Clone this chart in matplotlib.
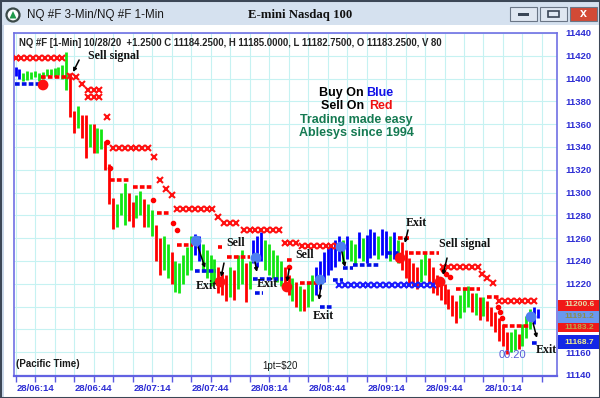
import numpy as np
import matplotlib.pyplot as plt
from matplotlib.patches import Rectangle, Circle, Polygon
from matplotlib.transforms import IdentityTransform, blended_transform_factory

plt.rcParams['font.family'] = ['Liberation Sans', 'DejaVu Sans']

# ---------------------------------------------------------------
# данные (минуты после 06:00, цены)
# ---------------------------------------------------------------
bar_min = list(range(4, 273, 2))
bar_low = [
    11402, 11400, 11398, 11399, 11400, 11401, 11398, 11400, 11402, 11403,
    11401, 11403, 11400, 11390, 11366, 11352, 11357, 11348, 11330, 11340,
    11335, 11335, 11338, 11320, 11290, 11268, 11270, 11280, 11272, 11275,
    11270, 11278, 11280, 11270, 11270, 11262, 11240, 11228, 11232, 11225,
    11220, 11213, 11212, 11220, 11228, 11232, 11245, 11240, 11230, 11225,
    11218, 11220, 11212, 11210, 11205, 11208, 11206, 11215, 11220, 11204,
    11215, 11238, 11235, 11240, 11232, 11228, 11225, 11222, 11218, 11215,
    11210, 11205, 11200, 11196, 11196, 11200, 11205, 11210, 11215, 11222,
    11228, 11232, 11235, 11240, 11238, 11242, 11240, 11237, 11243, 11240,
    11238, 11243, 11245, 11242, 11245, 11243, 11240, 11242, 11238, 11232,
    11225, 11220, 11218, 11215, 11222, 11228, 11220, 11212, 11210, 11206,
    11202, 11198, 11192, 11186, 11190, 11195, 11200, 11195, 11193, 11188,
    11192, 11187, 11183, 11178, 11170, 11165, 11158, 11160, 11162, 11163,
    11165, 11172, 11180, 11185, 11190]
bar_high = [
    11410, 11408, 11405, 11407, 11406, 11407, 11405, 11406, 11408, 11408,
    11409, 11410, 11412, 11423, 11405, 11372, 11376, 11368, 11368, 11360,
    11360, 11357, 11356, 11345, 11325, 11295, 11290, 11300, 11308, 11300,
    11292, 11298, 11301, 11294, 11290, 11285, 11272, 11260, 11262, 11255,
    11248, 11240, 11238, 11245, 11252, 11262, 11264, 11262, 11255, 11250,
    11245, 11242, 11235, 11230, 11228, 11235, 11232, 11245, 11250, 11238,
    11240, 11258, 11262, 11265, 11258, 11255, 11250, 11245, 11240, 11235,
    11228, 11225, 11222, 11218, 11215, 11222, 11228, 11235, 11240, 11248,
    11252, 11255, 11258, 11262, 11258, 11262, 11258, 11255, 11265, 11260,
    11263, 11268, 11265, 11262, 11268, 11266, 11262, 11265, 11258, 11257,
    11250, 11243, 11238, 11235, 11242, 11248, 11243, 11235, 11228, 11225,
    11220, 11215, 11210, 11205, 11210, 11215, 11218, 11212, 11212, 11208,
    11208, 11205, 11200, 11195, 11190, 11185, 11178, 11178, 11180, 11176,
    11185, 11192, 11198, 11200, 11198]
bar_col = ("bbgggggggg" "ggggrrgrrg" "rggrrrgggr" "rggrggrrgg" "rgggggbbgg"
           "ggrrrgrggr" "gbbbgggggr" "rgrgrggbbb" "bbbbgbggbg" "bbbgbbgbgr"
           "rrrrggrrrr" "rrrrgggrgr" "grrrrrrggr" "gggbb")

# красные крестики (верхний стоп)
redx_m = [4, 7, 10, 13, 16, 19, 22, 25, 28, 32, 35, 38, 41, 44, 47, 41, 44, 47, 51,
          54, 57, 60, 63, 66, 69, 72, 75, 78, 81, 84,
          87, 90, 93, 96, 99, 102, 105, 108, 111, 114, 117,
          121, 124, 127, 130, 133, 136, 139, 142, 145, 148,
          151, 154, 157, 160, 163, 166, 169,
          223, 226, 229, 232, 235, 238, 241, 243, 246, 249,
          252, 255, 258, 261, 264, 267, 270]
redx_p = [11418] * 9 + [11402, 11401, 11395, 11390, 11390, 11390, 11384, 11384, 11384, 11366] + \
         [11339] * 7 + [11331, 11311, 11303, 11298] + [11286] * 7 + [11279, 11273, 11273, 11273] + \
         [11267] * 7 + [11256] * 3 + [11253] * 7 + [11235] * 7 + [11229, 11225, 11221] + [11205] * 7

# синие крестики (нижний стоп)
bluex_m = list(range(170, 219, 3))
bluex_p = [11219] * len(bluex_m)

# красные стоп-уровни (пунктир) и точки
rs_start = [17, 52.5, 64, 76.5, 87, 108, 112.5, 143, 150, 200, 206, 230, 246, 254]
rs_end = [31, 62.7, 74.5, 83, 95, 110, 124, 146, 158.6, 206, 221, 242, 252.5, 268]
rs_price = [11401, 11311, 11305, 11282, 11254, 11252, 11243.5, 11241, 11221, 11260, 11247,
            11215, 11208, 11183]
rd_m = [51, 52.5, 74.5, 84.8, 87, 144, 223, 225, 227, 251.5, 252.5, 253.5]
rd_p = [11344, 11322, 11293.5, 11273, 11267, 11235, 11232, 11229, 11226, 11200, 11195, 11190]

# синие уровни поддержки
bs_start = [3.5, 96, 126, 127, 160, 167, 172, 177, 194.5, 269]
bs_end = [16.6, 107, 141, 131, 167, 172, 177, 191, 201, 272]
bs_price = [11395, 11231, 11224, 11212, 11200, 11223, 11234, 11236.5, 11247, 11168]

# сигналы (круги)
sig_m = [18.1, 96.6, 108.9, 127.3, 143.2, 160.2, 170.9, 201.2, 221.7, 268.4]
sig_p = [11394.4, 11257.5, 11221.6, 11242.6, 11217.2, 11223.3, 11252.3, 11242.6, 11221.6, 11190.9]
sig_col = "rbrbrbbrrb"

# подписи: текст, позиция текста, линия от -> до
ann_text = ['Sell signal', 'Sell', 'Exit', 'Exit', 'Sell', 'Exit', '', 'Exit', 'Sell signal', 'Exit']
ann_m = [41.2, 111.9, 96.6, 127.8, 147.3, 156.6, 0, 204.3, 221.2, 270.9]
ann_p = [11419.8, 11255.8, 11218, 11219.8, 11245.3, 11191.8, 0, 11273.3, 11254.9, 11161.9]
arr_m0 = [36.6, 110.9, 97.6, 126.8, 144.3, 160.7, 171.4, 205.3, 225.3, 269.4]
arr_p0 = [11416.3, 11238.2, 11252.3, 11239.1, 11233, 11219, 11247.9, 11267.2, 11242.6, 11185.6]
arr_m1 = [33.5, 109.4, 101.2, 127.8, 143.2, 159.6, 173, 203.7, 223.2, 271.4]
arr_p1 = [11405.8, 11226, 11233.9, 11230.4, 11221.6, 11205.8, 11234.7, 11255.8, 11227.7, 11172.5]

# ценовые метки справа
tag_price = [11200.6, 11183.2, 11191.2, 11168.7]
tag_label = ['11200.6', '11183.2', '11191.2', '11168.7']
tag_shift = [1.5, -1.8, 0, 0]
tag_bg = ['#f01818', '#f01818', '#6a98ee', '#1428e6']
tag_fg = ['#e4dca8', '#b8a84a', '#8c8c4c', '#f4f08c']

x_ticks = list(range(4, 282, 10))
x_label_pos = [14, 44, 74, 104, 134, 164, 194, 224, 254]
x_label_txt = ['28/06:14', '28/06:44', '28/07:14', '28/07:44', '28/08:14',
               '28/08:44', '28/09:14', '28/09:44', '28/10:14']
y_ticks = list(range(11140, 11441, 20))
y_hidden = [11180, 11200]   # закрыты ценовыми метками

COL = {'r': '#ff0000', 'g': '#12e612', 'b': '#0000ff'}
SIGCOL = {'r': '#ff1010', 'b': '#4d7ff0'}

# ---------------------------------------------------------------
W, H = 600, 398
fig = plt.figure(figsize=(6, 3.98), dpi=100, facecolor='white')


def fx(x):
    return x / W


def fy(y):
    return 1 - y / H


# окно: заголовок и рамка
fig.add_artist(Rectangle((0, fy(25)), 1, 25 / H, transform=fig.transFigure,
                         facecolor='#d5e1ef', edgecolor='none'))
fig.add_artist(Rectangle((0, 0), fx(4), fy(25), transform=fig.transFigure,
                         facecolor='#cad8ea', edgecolor='none'))
fig.add_artist(Rectangle((0, 0), 1, 1, transform=fig.transFigure,
                         facecolor='none', edgecolor='#3c4756', lw=2.2))
fig.add_artist(Circle((13, H - 15), 6.5, transform=IdentityTransform(),
                      facecolor='white', edgecolor='#3a4a48', lw=1.6))
fig.add_artist(Polygon([[9.5, H - 18.5], [16.5, H - 18.5], [13, H - 11]],
                       transform=IdentityTransform(), facecolor='#1f9a4a', edgecolor='none'))
fig.text(fx(27), fy(15), 'NQ #F 3-Min/NQ #F 1-Min', fontsize=8.4, color='#1a1a1a', va='center')
fig.text(fx(248), fy(15), 'E-mini Nasdaq 100', fontsize=9.2, fontweight='bold',
         family='Liberation Serif', va='center', color='#111111')
for x0, fc in [(510, '#dfe7f1'), (540, '#dfe7f1'), (570, '#d24a36')]:
    fig.add_artist(Rectangle((fx(x0), fy(21)), 27 / W, 14 / H, transform=fig.transFigure,
                             facecolor=fc, edgecolor='#6a7686', lw=0.8))
fig.add_artist(Rectangle((fx(518), fy(15.5)), 11 / W, 2.5 / H, transform=fig.transFigure,
                         facecolor='#3a4656', edgecolor='none'))
fig.add_artist(Rectangle((fx(548), fy(17)), 11 / W, 6 / H, transform=fig.transFigure,
                         facecolor='none', edgecolor='#3a4656', lw=1.2))
fig.text(fx(583.5), fy(14), 'x', fontsize=9, fontweight='bold', color='white',
         ha='center', va='center')

# ---------------------------------------------------------------
ax = fig.add_axes([fx(14), fy(376), (557 - 14) / W, (376 - 33) / H])
ax.set_xlim(3.2, 281.7)
ax.set_ylim(11139.1, 11440)

ax.vlines(bar_min, bar_low, bar_high, colors=[COL[c] for c in bar_col], lw=2.0, zorder=3)
ax.hlines(rs_price, rs_start, rs_end, colors='#ff0000', lw=2.6,
          linestyles=[(0, (1.3, 0.6))], zorder=4)
ax.plot(rd_m, rd_p, 'o', color='#ff0000', ms=3, zorder=4)
ax.hlines(bs_price, bs_start, bs_end, colors='#0010e6', lw=2.6,
          linestyles=[(0, (1.3, 0.6))], zorder=4)
ax.plot(redx_m, redx_p, 'x', color='#ff1010', ms=4.8, mew=1.5, ls='none', zorder=4)
ax.plot(bluex_m, bluex_p, 'x', color='#1a1aff', ms=4.8, mew=1.5, ls='none', zorder=4)
ax.scatter(sig_m, sig_p, s=60, c=[SIGCOL[c] for c in sig_col], linewidths=0, zorder=5)

for t, tm, tp, m0, p0, m1, p1 in zip(ann_text, ann_m, ann_p, arr_m0, arr_p0, arr_m1, arr_p1):
    if t:
        ax.text(tm, tp, t, ha='left', va='center', family='Liberation Serif',
                fontweight='bold', fontsize=8.6, color='#111111', zorder=6)
    ax.annotate('', xy=(m1, p1), xytext=(m0, p0),
                arrowprops=dict(arrowstyle='-|>', lw=1.1, color='black',
                                mutation_scale=5, shrinkA=0, shrinkB=0), zorder=6)

# оси
ax.set_xticks(x_ticks)
ax.set_xticklabels([x_label_txt[x_label_pos.index(t)] if t in x_label_pos else '' for t in x_ticks])
ax.set_yticks(y_ticks)
ax.set_yticklabels(['' if v in y_hidden else str(v) for v in y_ticks])
ax.yaxis.tick_right()
ax.tick_params(axis='y', length=0, pad=6, labelsize=6.8, labelcolor='#2e2ed4')
ax.tick_params(axis='x', length=4, width=1, color='#5a5ae2', pad=2,
               labelsize=6.8, labelcolor='#2e2ed4')
for lab in ax.get_xticklabels() + ax.get_yticklabels():
    lab.set_fontweight('bold')
ax.grid(True, color='#c6f2f2', lw=0.8)
ax.set_axisbelow(True)
for s in ['top', 'left', 'right']:
    ax.spines[s].set_color('#7070e4')
    ax.spines[s].set_linewidth(1.2)
ax.spines['bottom'].set_color('#6262e2')
ax.spines['bottom'].set_linewidth(1.6)

# ценовые метки справа
bt = blended_transform_factory(ax.transAxes, ax.transData)
for i, (p, lab, dp, bg, fg) in enumerate(zip(tag_price, tag_label, tag_shift, tag_bg, tag_fg)):
    hgt = 12.5 if i == 3 else 10.5
    ax.add_patch(Rectangle((1.002, p - hgt / 2), 0.1, hgt, transform=bt, clip_on=False,
                           facecolor=bg, edgecolor='none', zorder=10 + i))
    ax.text(1.0129, p + dp, lab, transform=bt, clip_on=False, fontsize=6.0, fontweight='bold',
            color=fg, va='center', ha='left', zorder=10 + i)

# тексты
fig.text(fx(19), fy(43), 'NQ #F [1-Min] 10/28/20  +1.2500 C 11184.2500, H 11185.0000, '
         'L 11182.7500, O 11183.2500, V 80', fontsize=6.9, fontweight='bold',
         color='#222222', va='center')
fig.text(fx(319), fy(93), 'Buy On ', fontsize=9, fontweight='bold', color='black', va='center')
fig.text(fx(366), fy(93), 'Blue', fontsize=9, fontweight='bold', color='#1010e8', va='center')
fig.text(fx(321), fy(106), 'Sell On ', fontsize=9, fontweight='bold', color='black', va='center')
fig.text(fx(369), fy(106), 'Red', fontsize=9, fontweight='bold', color='#f01010', va='center')
fig.text(fx(356), fy(120), 'Trading made easy', fontsize=9, fontweight='bold',
         color='#157a52', va='center', ha='center')
fig.text(fx(356), fy(132.5), 'Ablesys since 1994', fontsize=9, fontweight='bold',
         color='#157a52', va='center', ha='center')
fig.text(fx(16), fy(364), '(Pacific Time)', fontsize=7, fontweight='bold',
         color='#1a1a1a', va='center')
fig.text(fx(262), fy(366), r'1pt=\$20', fontsize=7, color='#1a1a1a', va='center')
fig.text(fx(499), fy(355), '00:20', fontsize=8, color='#5a5ad8', va='center')

fig.savefig('out.png', dpi=100, facecolor='white')
